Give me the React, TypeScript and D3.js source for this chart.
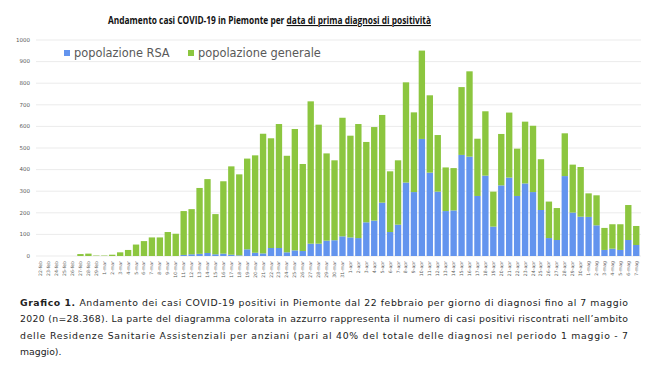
import React from 'react';
import * as d3 from 'd3';

const days = [
  '22-feb', '23-feb', '24-feb', '25-feb', '26-feb', '27-feb', '28-feb', '29-feb',
  '1-mar', '2-mar', '3-mar', '4-mar', '5-mar', '6-mar', '7-mar', '8-mar', '9-mar', '10-mar',
  '11-mar', '12-mar', '13-mar', '14-mar', '15-mar', '16-mar', '17-mar', '18-mar', '19-mar', '20-mar',
  '21-mar', '22-mar', '23-mar', '24-mar', '25-mar', '26-mar', '27-mar', '28-mar', '29-mar', '30-mar', '31-mar',
  '1-apr', '2-apr', '3-apr', '4-apr', '5-apr', '6-apr', '7-apr', '8-apr', '9-apr', '10-apr',
  '11-apr', '12-apr', '13-apr', '14-apr', '15-apr', '16-apr', '17-apr', '18-apr', '19-apr', '20-apr',
  '21-apr', '22-apr', '23-apr', '24-apr', '25-apr', '26-apr', '27-apr', '28-apr', '29-apr', '30-apr',
  '1-mag', '2-mag', '3-mag', '4-mag', '5-mag', '6-mag', '7-mag',
];

// casi nelle RSA
const rsa = [
  0, 0, 0, 0, 0, 0, 0, 0,
  0, 0, 0, 0, 0, 0, 0, 0, 0, 0,
  5, 8, 10, 14, 8, 11, 6, 3, 31, 15,
  12, 37, 37, 17, 26, 23, 57, 57, 71, 73, 91,
  86, 83, 156, 164, 247, 111, 145, 340, 296, 542,
  386, 298, 208, 211, 468, 460, 278, 372, 136, 327,
  363, 278, 336, 296, 213, 83, 74, 370, 201, 182,
  181, 142, 28, 34, 28, 74, 51,
];

// resto della popolazione
const generale = [
  0, 0, 0, 0, 0, 9, 11, 2,
  2, 6, 17, 28, 53, 69, 86, 86, 111, 103,
  203, 209, 305, 342, 186, 335, 409, 375, 420, 451,
  554, 508, 574, 447, 562, 403, 659, 551, 404, 370, 549,
  471, 528, 372, 433, 406, 281, 298, 464, 369, 409,
  358, 262, 202, 196, 314, 395, 265, 298, 162, 238,
  301, 219, 286, 307, 235, 169, 148, 198, 222, 230,
  109, 139, 102, 113, 119, 162, 88,
];

const yTicks = [0, 100, 200, 300, 400, 500, 600, 700, 800, 900, 1000];
const seriesKeys = ['rsa', 'generale'];
const seriesNames = ['popolazione RSA', 'popolazione generale'];

const captionLines = [
  'Andamento dei casi COVID-19 positivi in Piemonte dal 22 febbraio per giorno di diagnosi fino al 7 maggio',
  '2020 (n=28.368). La parte del diagramma colorata in azzurro rappresenta il numero di casi positivi riscontrati nell\u2019ambito',
  'delle Residenze Sanitarie Assistenziali per anziani (pari al 40% del totale delle diagnosi nel periodo 1 maggio - 7',
  'maggio).',
];

const W = 650;
const H = 365;
const colors = { rsa: '#6394ee', generale: '#8cc63f' };
const font = "'DejaVu Sans', sans-serif";

export default function App() {
  const rows = days.map((d, i) => ({ day: d, rsa: rsa[i], generale: generale[i] }));
  const stacked = d3.stack().keys(seriesKeys)(rows as any);

  const x = d3.scaleBand().domain(days).range([36, 641]).padding(0.2);
  const y = d3.scaleLinear().domain([0, 1000]).range([256, 40]);

  return (
    <svg width={W} height={H} style={{ position: 'absolute', left: 0, top: 0, background: '#fff' }}>
      <rect width={W} height={H} fill="#fff" />
      <text x={108} y={24} fontFamily="'Open Sans', sans-serif" fontWeight="bold" fontSize={11}
        textLength={323} lengthAdjust="spacingAndGlyphs" fill="#111">
        Andamento casi COVID-19 in Piemonte per{' '}
        <tspan textDecoration="underline" style={{ textDecoration: 'underline' }}>data di prima diagnosi di positività</tspan>
      </text>

      {yTicks.map(t => (
        <g key={t} transform={`translate(0,${y(t)})`}>
          <line x1={36} x2={641} stroke="#e2e2e2" strokeWidth={0.7} />
          <text x={30} dy="0.32em" textAnchor="end" fontFamily={font} fontSize={5.5} fill="#595959">{t}</text>
        </g>
      ))}

      {stacked.map(s => (
        <g key={s.key} fill={colors[s.key as 'rsa' | 'generale']}>
          {s.map((d: any, i) => (
            <rect key={i} x={x(days[i])} width={x.bandwidth()}
              y={y(d[1])} height={Math.max(0, y(d[0]) - y(d[1]))} />
          ))}
        </g>
      ))}

      {days.map(d => (
        <text key={d} transform={`translate(${(x(d) as number) + x.bandwidth() / 2 + 1.5},261) rotate(-90)`}
          textAnchor="end" fontFamily={font} fontSize={4.6} fill="#595959">{d}</text>
      ))}

      {seriesKeys.map((k, i) => (
        <g key={k} transform={`translate(${i === 0 ? 64 : 188},50)`}>
          <rect width={6} height={6} fill={colors[k as 'rsa' | 'generale']} />
          <text x={10} y={6.5} fontFamily={font} fontSize={11.4} fill="#595959">{seriesNames[i]}</text>
        </g>
      ))}

      {captionLines.map((line, i) => (
        <text key={i} x={20} y={306 + i * 16.3} fontFamily={font} fontSize={9.3} fill="#222"
          textLength={i < 3 ? 608 : undefined} lengthAdjust="spacing">
          {i === 0 && <tspan fontWeight="bold">Grafico 1. </tspan>}
          {line}
        </text>
      ))}
    </svg>
  );
}
